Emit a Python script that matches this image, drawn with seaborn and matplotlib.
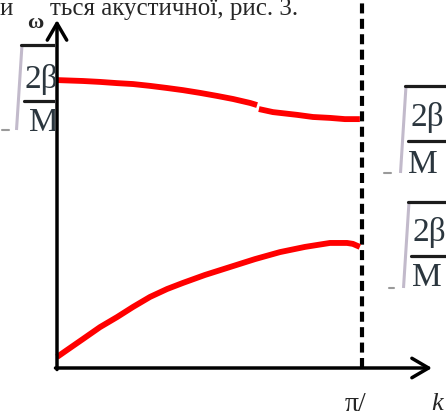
import pandas as pd
import matplotlib
matplotlib.use("Agg")
import matplotlib.pyplot as plt
import seaborn as sns
from matplotlib.transforms import Bbox

# wave number k in units of pi/a, frequency omega in arbitrary units
k_acoustic = [0.000, 0.033, 0.085, 0.141, 0.197, 0.249, 0.305, 0.361, 0.413,
              0.485, 0.567, 0.649, 0.731, 0.813, 0.895, 0.951, 0.970, 0.993]
w_acoustic = [0.036, 0.059, 0.095, 0.134, 0.167, 0.200, 0.233, 0.259, 0.279,
              0.305, 0.331, 0.357, 0.380, 0.397, 0.410, 0.410, 0.407, 0.397]

# optical branch has a small step in the scan, so two pieces
k_optical_a = [0.000, 0.085, 0.141, 0.197, 0.249, 0.305, 0.361, 0.413,
               0.469, 0.525, 0.577, 0.633, 0.656]
w_optical_a = [0.944, 0.941, 0.938, 0.934, 0.931, 0.925, 0.918, 0.911,
               0.902, 0.892, 0.882, 0.869, 0.862]
k_optical_b = [0.662, 0.708, 0.787, 0.839, 0.895, 0.944, 0.993]
w_optical_b = [0.849, 0.839, 0.830, 0.823, 0.820, 0.816, 0.816]

k_edge = 1.0
caption = "ться акустичної, рис. 3."
num_text = "2β"
den_text = "M"

W, H = 446, 416
ORIGIN_X, ORIGIN_Y, UNIT = 57, 368, 305

sns.set_theme(style="white")
plt.rcParams["font.family"] = ["Liberation Serif", "DejaVu Serif"]

fig = plt.figure(figsize=(W / 100, H / 100), dpi=100)
ax = fig.add_axes([0, 0, 1, 1])
ax.set_xlim(-ORIGIN_X / UNIT, (W - ORIGIN_X) / UNIT)
ax.set_ylim(-(H - ORIGIN_Y) / UNIT, ORIGIN_Y / UNIT)
ax.axis("off")

# overlay in pixel coords for the scanned labels
ann = fig.add_axes([0, 0, 1, 1], zorder=-1)
ann.set_xlim(0, W)
ann.set_ylim(H, 0)
ann.axis("off")
ax.patch.set_alpha(0)

for kk, ww in [(k_acoustic, w_acoustic), (k_optical_a, w_optical_a),
               (k_optical_b, w_optical_b)]:
    d = pd.DataFrame({"k": kk, "w": ww})
    sns.lineplot(data=d, x="k", y="w", ax=ax, color="#ff0000", lw=4.2,
                 solid_capstyle="butt", solid_joinstyle="round", zorder=3)

# axes with arrows
arrow = dict(arrowstyle="->,head_length=0.6,head_width=0.35", lw=2.5,
             color="black", mutation_scale=20, shrinkA=0, shrinkB=0)
ax.annotate("", xy=(0, (ORIGIN_Y - 20) / UNIT), xytext=(0, -0.005),
            arrowprops=arrow, zorder=4)
ax.annotate("", xy=((432 - ORIGIN_X) / UNIT, 0), xytext=(-0.005, 0),
            arrowprops=arrow, zorder=4)
ax.plot([k_edge, k_edge], [0, ORIGIN_Y / UNIT], color="black", lw=3,
        dashes=(2.4, 1.3), zorder=2)


def root_label(x_rad, y_top, x_num, y_num, y_bar, x_den, y_den, y_bot,
               tail, clip=None):
    dark = "#1c1c1c"
    txt = "#2b363e"
    arts = []
    arts += ann.plot([x_rad, x_rad - 5.5], [y_top, y_bot], color="#c2bacb",
                     lw=2.2, solid_capstyle="butt")
    arts += ann.plot(tail, [y_bot, y_bot], color="#9a9a9a", lw=1.5)
    arts += ann.plot([x_rad - 1, W], [y_top, y_top], color=dark, lw=2.3)
    arts += ann.plot([x_rad + 2, W], [y_bar, y_bar], color=dark, lw=2.3)
    arts.append(ann.text(x_num, y_num, num_text, fontsize=24, color=txt,
                         va="baseline", ha="left"))
    arts.append(ann.text(x_den, y_den, den_text, fontsize=24, color=txt,
                         va="baseline", ha="left"))
    if clip is not None:
        box = Bbox.from_extents(0, 0, clip, H)
        for a in arts:
            a.set_clip_box(box)
            a.set_clip_on(True)


root_label(22, 45, 25, 88, 101, 29, 131, 130, [2, 9], clip=ORIGIN_X - 2)
root_label(406, 86, 410, 126, 141, 408, 173, 173, [384, 391])
root_label(409, 202, 413, 241, 256, 412, 286, 288, [389, 394])

# text labels
ann.text(0, 15, "и", fontsize=18, va="baseline", ha="left")
ann.text(50, 15, caption, fontsize=18, va="baseline", ha="left")
ann.text(35, 23, "ω", fontsize=16, fontweight="bold", ha="center",
         va="center")
ann.text(345, 411, "π/", fontsize=20, ha="left", va="baseline")
ann.text(431, 410, "k", fontsize=19, style="italic", ha="left",
         va="baseline")

fig.savefig("out.png", dpi=100)
